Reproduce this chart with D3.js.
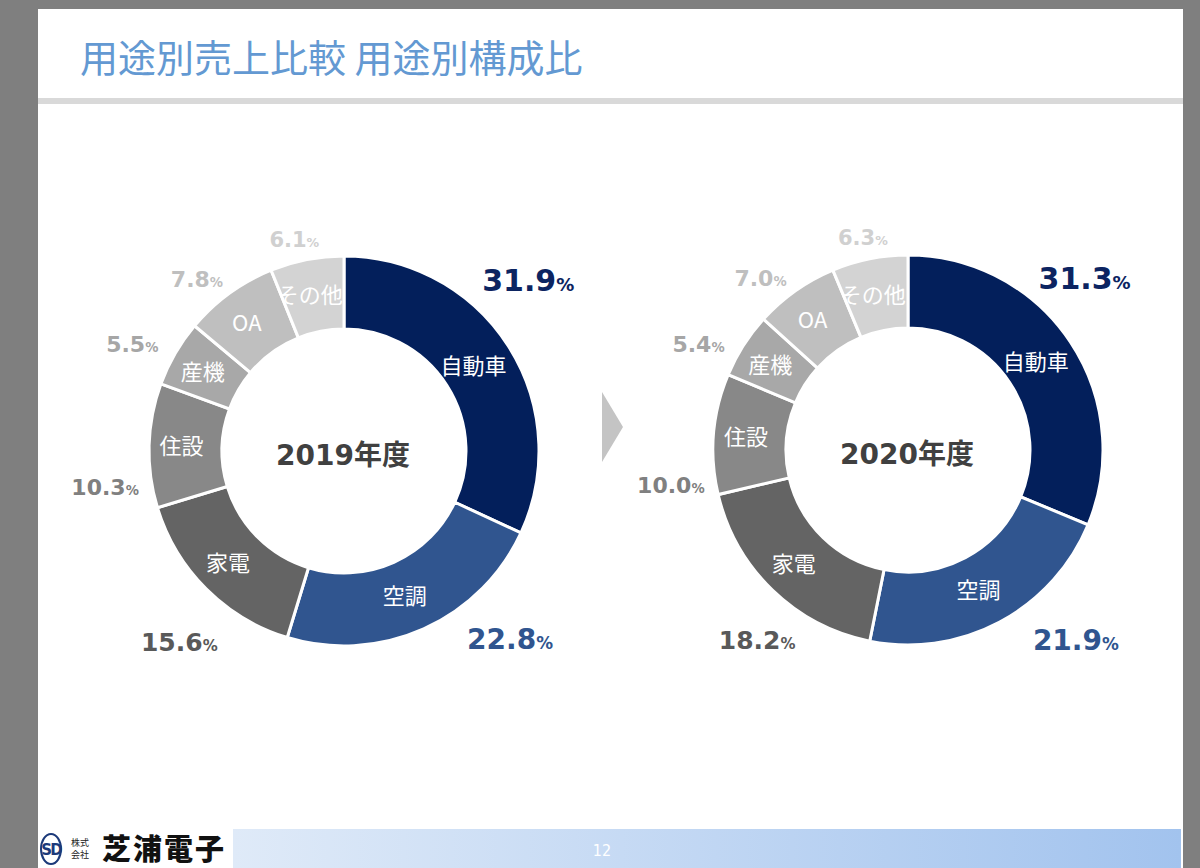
<!DOCTYPE html>
<html>
<head>
<meta charset="utf-8">
<script src="https://cdn.jsdelivr.net/npm/d3@7"></script>
<style>
  body { margin: 0; background: #7f7f7f; }
  svg { display: block; }
</style>
</head>
<body>
<svg id="chart"></svg>
<script>
// Data
const categories = ["自動車", "空調", "家電", "住設", "産機", "OA", "その他"];
const years = ["2019年度", "2020年度"];
const share2019 = [31.9, 22.8, 15.6, 10.3, 5.5, 7.8, 6.1];
const share2020 = [31.3, 21.9, 18.2, 10.0, 5.4, 7.0, 6.3];

const title = "用途別売上比較 用途別構成比";
const pageNumber = "12";

// Colours per category
const sliceColors = ["#031f5b", "#30558f", "#646464", "#888888", "#a8a8a8", "#bfbfbf", "#d3d3d3"];
const labelColors = ["#0c2461", "#30558f", "#595959", "#808080", "#a6a6a6", "#bfbfbf", "#d0d0d0"];
const labelSizes = [30, 28, 25, 22, 22, 22, 21];

const W = 1200, H = 868;
const svg = d3.select("#chart").attr("width", W).attr("height", H);

// Slide background
svg.append("rect").attr("x", 38).attr("y", 9).attr("width", 1145).attr("height", H - 9).attr("fill", "#fff");

svg.append("text")
  .attr("x", 80).attr("y", 72)
  .attr("font-family", "'Noto Sans CJK JP', sans-serif")
  .attr("font-size", 38)
  .attr("fill", "#6399d2")
  .text(title);

svg.append("rect").attr("x", 38).attr("y", 98).attr("width", 1145).attr("height", 6).attr("fill", "#d9d9d9");

// Footer
const defs = svg.append("defs");
const grad = defs.append("linearGradient").attr("id", "footGrad");
grad.append("stop").attr("offset", "0%").attr("stop-color", "#dfeaf8");
grad.append("stop").attr("offset", "100%").attr("stop-color", "#a2c3ee");
svg.append("rect").attr("x", 233).attr("y", 829).attr("width", 948).attr("height", 39).attr("fill", "url(#footGrad)");
svg.append("text")
  .attr("x", 602).attr("y", 856)
  .attr("text-anchor", "middle")
  .attr("font-family", "'DejaVu Sans Condensed', sans-serif")
  .attr("font-size", 16)
  .attr("fill", "#fff")
  .text(pageNumber);

// Logo
const logo = svg.append("g").attr("transform", "translate(40,832)");
logo.append("ellipse").attr("cx", 11).attr("cy", 17).attr("rx", 10).attr("ry", 15)
  .attr("fill", "none").attr("stroke", "#1c3a7a").attr("stroke-width", 2);
logo.append("text").attr("x", 11).attr("y", 23).attr("text-anchor", "middle")
  .attr("font-family", "'DejaVu Sans', sans-serif").attr("font-weight", "bold")
  .attr("font-size", 15).attr("fill", "#1c3a7a").attr("letter-spacing", -2).text("SD");
logo.append("text").attr("x", 31).attr("y", 14)
  .attr("font-family", "'Noto Sans CJK JP', sans-serif").attr("font-size", 9).attr("fill", "#222").text("株式");
logo.append("text").attr("x", 31).attr("y", 26)
  .attr("font-family", "'Noto Sans CJK JP', sans-serif").attr("font-size", 9).attr("fill", "#222").text("会社");
logo.append("text").attr("x", 62).attr("y", 28)
  .attr("font-family", "'Noto Sans CJK JP', sans-serif").attr("font-weight", 900)
  .attr("font-size", 29).attr("fill", "#111").attr("letter-spacing", 2).text("芝浦電子");

// Arrow between the two donuts
svg.append("polygon").attr("points", "602,392 623,427 602,462").attr("fill", "#c4c4c4");

// Donuts
const outerR = 195, innerR = 122, labelR = 240;
const charts = [
  { year: years[0], values: share2019, cx: 344, cy: 451,
    nudge: [[-18, -42], [68, -31], [5, 21], [1, 43], [-4, 13], [-6, 22], [-4, 24]] },
  { year: years[1], values: share2020, cx: 908, cy: 450,
    nudge: [[-23, -39], [55, -22], [16, 18], [2, 55], [-7, 23], [-9, 24], [2, 23]] }
];

const pie = d3.pie().sort(null).value(d => d.value);
const arc = d3.arc().innerRadius(innerR).outerRadius(outerR);
const labelArc = d3.arc().innerRadius(labelR).outerRadius(labelR);

charts.forEach((c, ci) => {
  const rows = categories.map((name, i) => ({ name: name, value: c.values[i], i: i }));
  const arcs = pie(rows);
  const g = svg.append("g").attr("transform", "translate(" + c.cx + "," + c.cy + ")");

  arcs.forEach(a => {
    defs.append("clipPath").attr("id", "clip" + ci + "_" + a.data.i)
      .attr("transform", "translate(" + c.cx + "," + c.cy + ")")
      .append("path").attr("d", arc(a));
  });

  g.selectAll("path.slice")
    .data(arcs)
    .enter()
    .append("path")
    .attr("class", "slice")
    .attr("d", arc)
    .attr("fill", d => sliceColors[d.data.i])
    .attr("stroke", "#fff")
    .attr("stroke-width", 3);

  // category names inside the ring, clipped to their slice
  svg.append("g").selectAll("text")
    .data(arcs)
    .enter()
    .append("g")
    .attr("clip-path", d => "url(#clip" + ci + "_" + d.data.i + ")")
    .append("text")
    .attr("x", d => c.cx + arc.centroid(d)[0] - 4)
    .attr("y", d => c.cy + arc.centroid(d)[1])
    .attr("dy", "0.36em")
    .attr("text-anchor", "middle")
    .attr("font-family", "'Noto Sans CJK JP', sans-serif")
    .attr("font-size", 22)
    .attr("fill", "#fff")
    .text(d => d.data.name);

  // percentages outside
  const pct = g.selectAll("text.pct")
    .data(arcs)
    .enter()
    .append("text")
    .attr("class", "pct")
    .attr("x", d => labelArc.centroid(d)[0] + c.nudge[d.data.i][0])
    .attr("y", d => labelArc.centroid(d)[1] + c.nudge[d.data.i][1] + labelSizes[d.data.i] * 0.36)
    .attr("text-anchor", "middle")
    .attr("font-family", "'DejaVu Sans', sans-serif")
    .attr("font-weight", "bold")
    .attr("fill", d => labelColors[d.data.i]);
  pct.append("tspan")
    .attr("font-size", d => labelSizes[d.data.i])
    .text(d => d.data.value.toFixed(1));
  pct.append("tspan")
    .attr("font-size", d => labelSizes[d.data.i] * 0.6)
    .text("%");

  // year in the hole
  g.append("text")
    .attr("x", -1).attr("y", 4)
    .attr("dy", "0.36em")
    .attr("text-anchor", "middle")
    .attr("font-family", "'DejaVu Sans', 'Noto Sans CJK JP', sans-serif")
    .attr("font-weight", "bold")
    .attr("font-size", 28)
    .attr("fill", "#404040")
    .text(c.year);
});
</script>
</body>
</html>
